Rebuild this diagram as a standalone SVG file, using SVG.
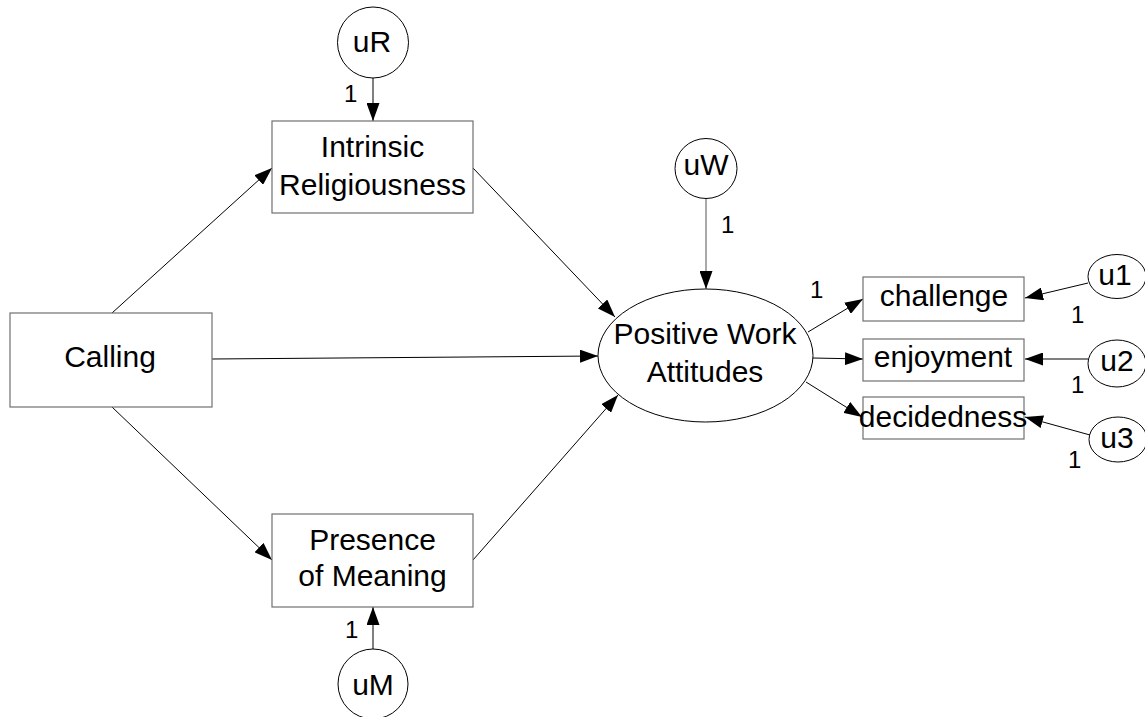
<svg xmlns="http://www.w3.org/2000/svg" width="1145" height="717" viewBox="0 0 1145 717">
<style>
  .box { fill: #ffffff; stroke: #707070; stroke-width: 1.2; }
  .lat { fill: #ffffff; stroke: #000000; stroke-width: 1; }
  .lbl { font-family: "Liberation Sans", Arial, sans-serif; font-size: 30px; fill: #000000; text-anchor: middle; }
  .num { font-family: "Liberation Sans", Arial, sans-serif; font-size: 24px; fill: #000000; }
  .edge { stroke: #000000; stroke-width: 1; fill: none; marker-end: url(#arr); }
</style>
<defs>
  <marker id="arr" viewBox="0 0 18 13" refX="18" refY="6.5" markerWidth="18" markerHeight="13" markerUnits="userSpaceOnUse" orient="auto">
    <path d="M0,0 L18,6.5 L0,13 z" fill="#000000"/>
  </marker>
</defs>
<rect width="1145" height="717" fill="#ffffff"/>

<g id="connectors">
  <line class="edge" x1="373" y1="78" x2="373" y2="121"/>
  <line class="edge" x1="373" y1="649" x2="373" y2="607"/>
  <line class="edge" x1="706" y1="199" x2="706" y2="289" style="stroke:#555555"/>
  <line class="edge" x1="112" y1="313" x2="272" y2="168"/>
  <line class="edge" x1="112" y1="407" x2="272" y2="560"/>
  <line class="edge" x1="212" y1="359" x2="598" y2="356"/>
  <line class="edge" x1="473" y1="168" x2="615" y2="317"/>
  <line class="edge" x1="473" y1="560" x2="618" y2="395"/>
  <line class="edge" x1="808" y1="332" x2="863" y2="299"/>
  <line class="edge" x1="813" y1="358" x2="863" y2="359"/>
  <line class="edge" x1="806" y1="382" x2="862" y2="417"/>
  <line class="edge" x1="1088" y1="283" x2="1025" y2="298"/>
  <line class="edge" x1="1088" y1="359" x2="1025" y2="359"/>
  <line class="edge" x1="1090" y1="435" x2="1025" y2="417"/>
  <text class="num" x="344" y="102">1</text>
  <text class="num" x="345" y="638">1</text>
  <text class="num" x="721" y="233">1</text>
  <text class="num" x="810" y="298">1</text>
  <text class="num" x="1071" y="323">1</text>
  <text class="num" x="1071" y="393">1</text>
  <text class="num" x="1068" y="468">1</text>
</g>

<g id="uR">
  <circle class="lat" cx="373" cy="42.5" r="35.5"/>
  <text class="lbl" x="372" y="52">uR</text>
</g>
<g id="intrinsic">
  <rect class="box" x="272" y="121" width="201" height="92"/>
  <text class="lbl" x="372.5" y="157">Intrinsic</text>
  <text class="lbl" x="372.5" y="195">Religiousness</text>
</g>
<g id="calling">
  <rect class="box" x="10" y="313" width="202" height="94"/>
  <text class="lbl" x="110" y="367">Calling</text>
</g>
<g id="presence">
  <rect class="box" x="272" y="514" width="201" height="93"/>
  <text class="lbl" x="372.5" y="550">Presence</text>
  <text class="lbl" x="372.5" y="586">of Meaning</text>
</g>
<g id="uM">
  <circle class="lat" cx="373" cy="684" r="35"/>
  <text class="lbl" x="373" y="695">uM</text>
</g>
<g id="uW">
  <ellipse class="lat" cx="706" cy="168.5" rx="31" ry="30"/>
  <text class="lbl" x="706" y="175">uW</text>
</g>
<g id="pwa">
  <ellipse class="lat" cx="705.5" cy="355.5" rx="107.5" ry="66.5"/>
  <text class="lbl" x="705" y="344">Positive Work</text>
  <text class="lbl" x="705" y="382">Attitudes</text>
</g>
<g id="challenge">
  <rect class="box" x="863" y="277" width="161" height="44"/>
  <text class="lbl" x="944" y="306">challenge</text>
</g>
<g id="enjoyment">
  <rect class="box" x="863" y="339" width="161" height="42"/>
  <text class="lbl" x="943" y="367">enjoyment</text>
</g>
<g id="decidedness">
  <rect class="box" x="863" y="397" width="161" height="42"/>
  <text class="lbl" x="943" y="427">decidedness</text>
</g>
<g id="u1">
  <ellipse class="lat" cx="1117" cy="276.5" rx="29" ry="22"/>
  <text class="lbl" x="1115" y="285">u1</text>
</g>
<g id="u2">
  <ellipse class="lat" cx="1117" cy="363.5" rx="29" ry="23.5"/>
  <text class="lbl" x="1117" y="371">u2</text>
</g>
<g id="u3">
  <ellipse class="lat" cx="1118" cy="439.5" rx="29" ry="22.5"/>
  <text class="lbl" x="1117" y="448">u3</text>
</g>
</svg>
